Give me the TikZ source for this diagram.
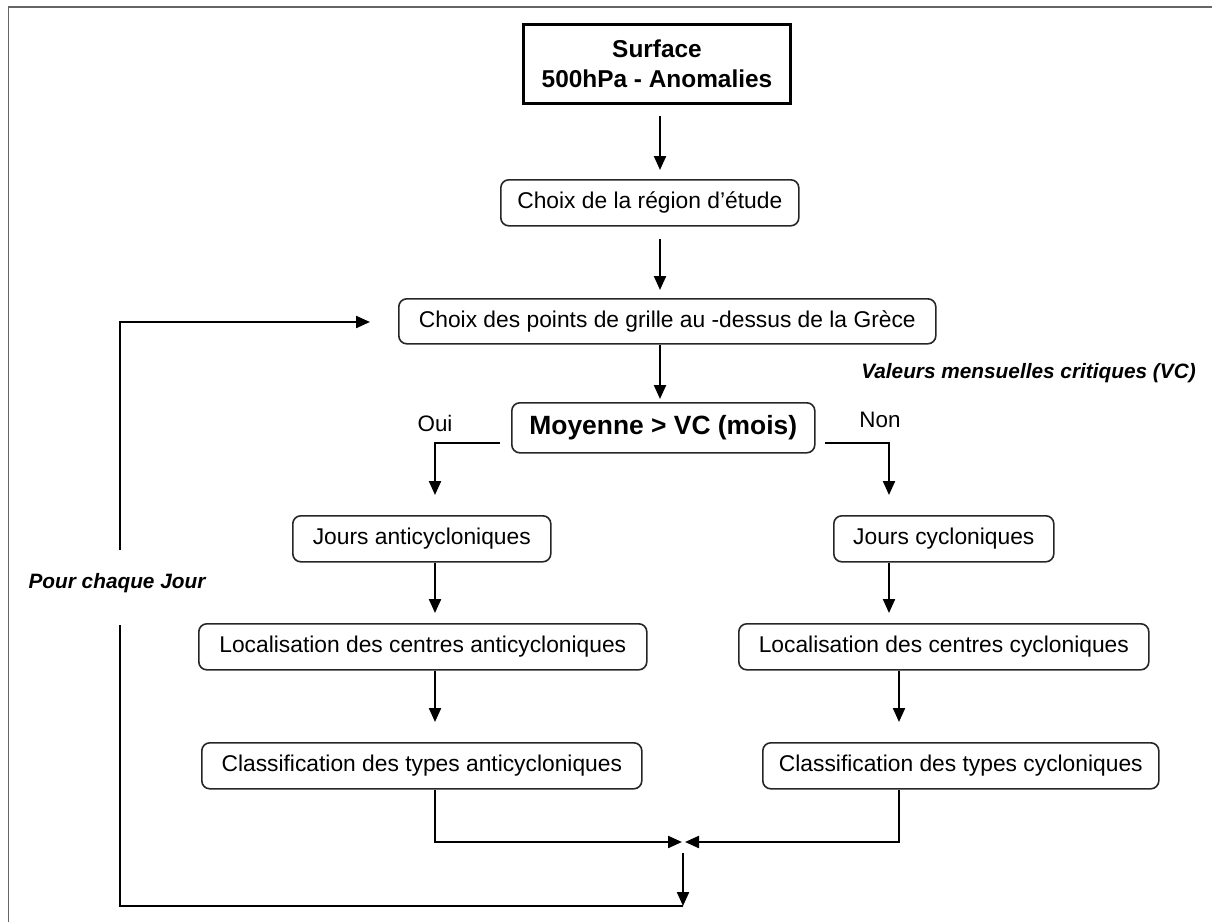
\documentclass[tikz,border=0pt]{standalone}
\usepackage{fontspec}
\setmainfont{Liberation Sans}
\usetikzlibrary{arrows.meta}
\begin{document}
\begin{tikzpicture}[x=0.5pt,y=-0.5pt,
  box/.style={draw=black!85, line width=0.8pt, rounded corners=4pt, inner sep=0pt, anchor=north west, minimum height=23pt, font=\fontsize{11.4}{13}\selectfont},
  arr/.style={line width=1.1pt, -{Triangle[length=7pt,width=6pt]}},
  ln/.style={line width=1.1pt},
  lbl/.style={font=\fontsize{10.4}{12}\selectfont\bfseries\itshape, inner sep=0pt},
  yn/.style={font=\fontsize{11.2}{13}\selectfont, inner sep=0pt}]
\useasboundingbox (0,0) rectangle (1212,922);
\draw[black!60, line width=1pt] (8,7) -- (1212,7);
\draw[black!60, line width=0.5pt] (8,7) -- (8,922);
% nodes
\node[box, draw=black, line width=1.5pt, rounded corners=0pt, minimum width=133.5pt, minimum height=39.5pt, align=center, font=\fontsize{12.2}{15}\selectfont\bfseries] (src) at (522,23) {Surface\\500hPa - Anomalies};
\node[box, minimum width=149pt] (reg) at (500,179) {Choix de la région d’étude};
\node[box, minimum width=268.5pt, minimum height=22.5pt] (pts) at (398,298) {Choix des points de grille au -dessus de la Grèce};
\node[box, minimum width=151.5pt, minimum height=25pt, font=\fontsize{13.2}{15}\selectfont\bfseries] (moy) at (511,402) {Moyenne > VC (mois)};
\node[box, minimum width=129pt] (janti) at (292,515) {Jours anticycloniques};
\node[box, minimum width=224pt] (lanti) at (198,623) {Localisation des centres anticycloniques};
\node[box, minimum width=220pt] (canti) at (201,742) {Classification des types anticycloniques};
\node[box, minimum width=110pt] (jcyc) at (833,515) {Jours cycloniques};
\node[box, minimum width=205pt] (lcyc) at (738,623) {Localisation des centres cycloniques};
\node[box, minimum width=198pt] (ccyc) at (762,742) {Classification des types cycloniques};
% labels
\node[yn] (oui) at (435,423) {Oui};
\node[yn] (non) at (880,420) {Non};
\node[lbl] (vc) at (1028.5,373) {Valeurs mensuelles critiques (VC)};
\node[lbl] (pour) at (117,583) {Pour chaque Jour};
% column coordinates
\coordinate (c0) at (660,0);
\coordinate (cL) at (435,0);
\coordinate (cR) at (889,0);
\coordinate (cR2) at (899,0);
\coordinate (mL) at (682,842);
\coordinate (mR) at (685,842);
\coordinate (d1) at (683,853);
\coordinate (d2) at (683,906);
\coordinate (b1) at (120,906);
\coordinate (g1) at (120,625);
\coordinate (g2) at (120,550);
\coordinate (t1) at (120,322);
\coordinate (t2) at (370,322);
% connectors
\draw[arr] ([yshift=-5.5pt]src.south -| c0) -- ([yshift=4.5pt]reg.north -| c0);
\draw[arr] ([yshift=-6pt]reg.south -| c0) -- ([yshift=4pt]pts.north -| c0);
\draw[arr] (pts.south -| c0) -- ([yshift=1.5pt]moy.north -| c0);
\draw[arr] ([xshift=-5.5pt,yshift=5.5pt]moy.south west) -| ([yshift=10pt]janti.north -| cL);
\draw[arr] ([xshift=4.5pt,yshift=5.5pt]moy.south east) -| ([yshift=10pt]jcyc.north -| cR);
\draw[arr] (janti.south -| cL) -- ([yshift=5pt]lanti.north -| cL);
\draw[arr] (lanti.south -| cL) -- ([yshift=10pt]canti.north -| cL);
\draw[arr] (jcyc.south -| cR) -- ([yshift=5pt]lcyc.north -| cR);
\draw[arr] (lcyc.south -| cR2) -- ([yshift=10pt]ccyc.north -| cR2);
\draw[arr] (canti.south -| cL) |- (mL);
\draw[arr] (ccyc.south -| cR2) |- (mR);
\draw[arr] (d1) -- (d2);
\draw[ln] (d2) -- (b1) -- (g1);
\draw[arr] (g2) -- (t1) -- (t2);
\end{tikzpicture}
\end{document}
